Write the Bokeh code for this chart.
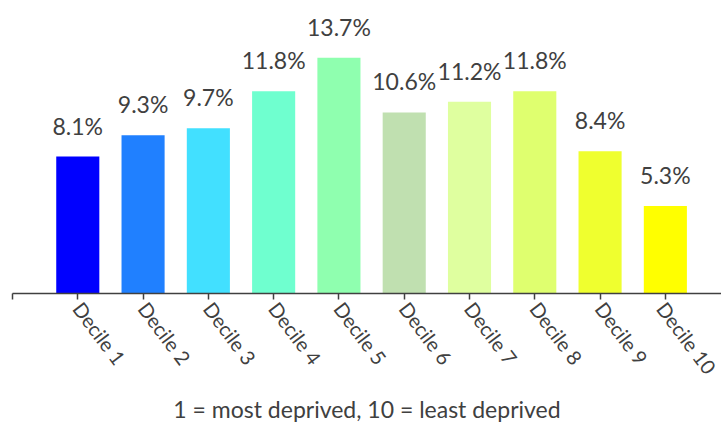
import math
from bokeh.plotting import figure
from bokeh.models import Range1d, FixedTicker, ColumnDataSource
from bokeh.core.properties import value
from bokeh.embed import file_html
from bokeh.resources import INLINE

categories = ["Decile 1", "Decile 2", "Decile 3", "Decile 4", "Decile 5",
              "Decile 6", "Decile 7", "Decile 8", "Decile 9", "Decile 10"]
shares = [8.1, 9.3, 9.7, 11.8, 13.7, 10.6, 11.2, 11.8, 8.4, 5.3]
colors = ["#0000FF", "#2080FF", "#42E0FF", "#6FFFCF", "#8FFFAF",
          "#C0E0B0", "#DFFF9F", "#DFFF6F", "#EFFF2F", "#FFFF00"]
axis_title = "1 = most deprived, 10 = least deprived"

positions = list(range(1, len(categories) + 1))
labels = [f"{v}%" for v in shares]

src = ColumnDataSource(dict(x=positions, top=shares, color=colors, label=labels))

FONT = "Lato"
TXT = "#404040"

p = figure(width=721, height=425, output_backend="svg", toolbar_location=None,
           x_range=Range1d(0, 10.86), y_range=Range1d(0.33, 16.95),
           min_border_left=12, min_border_right=0, min_border_top=0,
           min_border_bottom=0, outline_line_color=None)
p.grid.visible = False
p.yaxis.visible = False

p.vbar(x="x", top="top", bottom=0, width=0.66, color="color", line_color=None, source=src)
p.text(x="x", y="top", text="label", source=src, text_align="center",
       text_baseline="alphabetic", y_offset=-31, text_font=value(FONT),
       text_font_size="23px", text_color=TXT)

ax = p.xaxis[0]
ax.ticker = FixedTicker(ticks=[0] + positions)
overrides = {0: ""}
overrides.update({pos: c for pos, c in zip(positions, categories)})
ax.major_label_overrides = overrides
ax.major_label_orientation = -math.radians(53)
ax.major_label_text_font = FONT
ax.major_label_text_font_size = "20px"
ax.major_label_text_color = TXT
ax.axis_line_color = TXT
ax.axis_line_width = 1.5
ax.major_tick_line_color = TXT
ax.major_tick_line_width = 1.5
ax.major_tick_out = 6
ax.major_tick_in = 0
ax.minor_tick_line_color = None
ax.major_label_standoff = 5
ax.axis_label = axis_title
ax.axis_label_text_font = FONT
ax.axis_label_text_font_size = "23px"
ax.axis_label_text_font_style = "normal"
ax.axis_label_text_color = TXT
ax.axis_label_standoff = 6

open("out.html", "w").write(file_html(p, INLINE))
